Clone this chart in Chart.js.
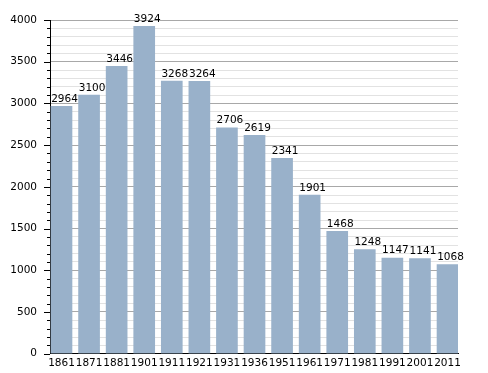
<!DOCTYPE html>
<html>
<head>
<meta charset="utf-8">
<script src="https://cdn.jsdelivr.net/npm/chart.js@4"></script>
<style>
    html, body { margin: 0; padding: 0; background: #fff; }
    #wrap { width: 488px; height: 373px; }
</style>
</head>
<body>
<div id="wrap"><canvas id="chart" width="488" height="373"></canvas></div>
<script>
const years = ["1861", "1871", "1881", "1901", "1911", "1921", "1931", "1936",
    "1951", "1961", "1971", "1981", "1991", "2001", "2011"];
const population = [2964, 3100, 3446, 3924, 3268, 3264, 2706, 2619,
    2341, 1901, 1468, 1248, 1147, 1141, 1068];

const FONT = "'DejaVu Sans', sans-serif";

// bars sit flush against both ends of the plot, so use a numeric x axis
const points = population.map((v, i) => ({ x: i, y: v }));

// Value above each bar + small tick marks on the y axis
const extras = {
    id: "extras",
    afterDatasetsDraw(chart) {
        const ctx = chart.ctx;
        const meta = chart.getDatasetMeta(0);
        ctx.save();
        ctx.font = "10.5px " + FONT;
        ctx.fillStyle = "#000";
        ctx.textAlign = "center";
        ctx.textBaseline = "bottom";
        meta.data.forEach((bar, i) => {
            ctx.fillText(population[i], bar.x + 3, bar.y - 2);
        });

        const y = chart.scales.y;
        const left = chart.chartArea.left;
        ctx.strokeStyle = "#000";
        ctx.lineWidth = 1;
        for (let v = 0; v <= 4000; v += 100) {
            const py = Math.round(y.getPixelForValue(v)) + 0.5;
            const len = v % 500 === 0 ? 6 : 3;
            ctx.beginPath();
            ctx.moveTo(left - len, py);
            ctx.lineTo(left, py);
            ctx.stroke();
        }
        ctx.restore();
    }
};

new Chart(document.getElementById("chart"), {
    type: "bar",
    data: {
        datasets: [{
            data: points,
            backgroundColor: "#99b1ca",
            barThickness: 21
        }]
    },
    options: {
        responsive: false,
        animation: false,
        layout: { padding: { top: 20, right: 30, left: 0, bottom: 0 } },
        plugins: {
            legend: { display: false },
            tooltip: { enabled: false }
        },
        scales: {
            x: {
                type: "linear",
                offset: false,
                min: -0.417,
                max: 14.38,
                grid: { display: false, drawTicks: false },
                border: { display: true, color: "#000", width: 1 },
                ticks: {
                    autoSkip: false,
                    maxRotation: 0,
                    color: "#000",
                    font: { family: FONT, size: 10.5 },
                    padding: 3,
                    callback: v => years[v]
                },
                afterBuildTicks: s => { s.ticks = years.map((_, i) => ({ value: i })); },
                afterFit: s => { s.height = 19; }
            },
            y: {
                min: 0,
                max: 4000,
                grid: {
                    drawTicks: false,
                    color: c => (c.tick && c.tick.value % 500 === 0) ? "#a8a8a8" : "#e2e2e2"
                },
                border: { display: true, color: "#000", width: 1 },
                ticks: {
                    stepSize: 100,
                    autoSkip: false,
                    color: "#000",
                    font: { family: FONT, size: 10.5 },
                    padding: 13,
                    callback: v => v % 500 === 0 ? v : ""
                },
                afterFit: s => { s.width = 50; }
            }
        }
    },
    plugins: [extras]
});
</script>
</body>
</html>
